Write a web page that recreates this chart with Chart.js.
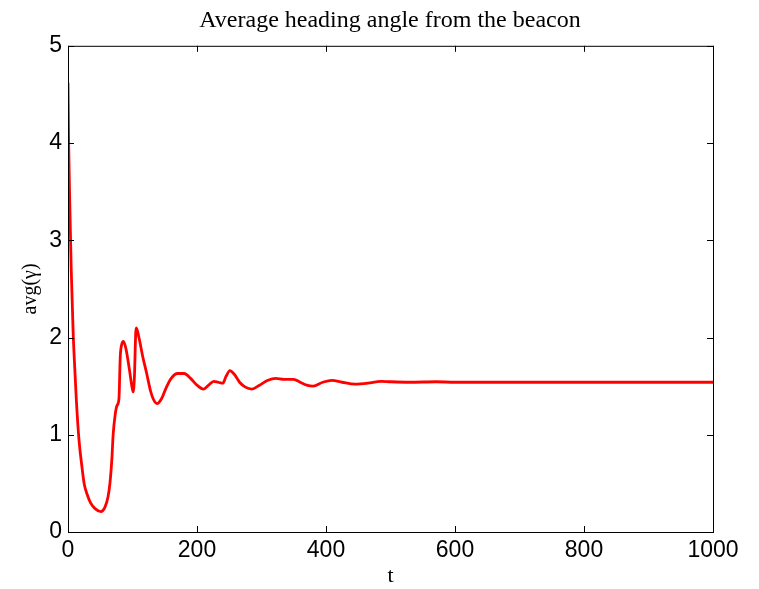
<!DOCTYPE html>
<html>
<head>
<meta charset="utf-8">
<script src="https://cdn.jsdelivr.net/npm/chart.js@4/dist/chart.umd.min.js"></script>
<style>
  html, body { margin: 0; padding: 0; background: #fff; }
  #wrap { width: 759px; height: 589px; }
</style>
</head>
<body>
<div id="wrap"><canvas id="heading"></canvas></div>
<script>
// time samples and the averaged heading angle at each one
const tValues = [0, 1, 3, 5, 8, 10, 13, 17, 22, 25, 30, 35, 42, 51, 57, 62, 65, 68, 70, 73, 76, 79,
  81, 83, 86, 90, 95, 99, 101, 103, 105, 106, 110, 116, 122, 128, 132, 138, 145, 152, 160, 170, 180,
  190, 200, 210, 218, 226, 233, 240, 245, 251, 258, 266, 275, 285, 297, 310, 322, 335, 350, 360,
  370, 380, 395, 409, 425, 445, 465, 485, 500, 530, 570, 600, 1000];
const avgGamma = [4.62, 4.0, 3.3, 2.7, 2.05, 1.75, 1.35, 0.95, 0.65, 0.5, 0.38, 0.3, 0.24, 0.21, 0.25,
  0.36, 0.5, 0.75, 1.0, 1.2, 1.3, 1.37, 1.8, 1.92, 1.96, 1.88, 1.68, 1.5, 1.44, 1.6, 2.05, 2.1, 2.0,
  1.8, 1.63, 1.45, 1.37, 1.32, 1.37, 1.48, 1.58, 1.63, 1.63, 1.58, 1.51, 1.47, 1.51, 1.55, 1.54,
  1.53, 1.6, 1.66, 1.62, 1.54, 1.49, 1.47, 1.51, 1.56, 1.58, 1.57, 1.57, 1.54, 1.51, 1.5, 1.54,
  1.56, 1.54, 1.52, 1.53, 1.55, 1.545, 1.54, 1.545, 1.54, 1.54];

const xTicks = [0, 200, 400, 600, 800, 1000];
const yTicks = [0, 1, 2, 3, 4, 5];

const serif = '"Liberation Serif", "Times New Roman", serif';
const sans = '"Liberation Sans", Arial, sans-serif';

// black box round the plot with short inward ticks on every side
const boxPlugin = {
  id: 'box',
  afterDraw(chart) {
    const { ctx, chartArea: a, scales } = chart;
    const len = 6;
    ctx.save();
    ctx.strokeStyle = '#000';
    ctx.lineWidth = 1;
    ctx.strokeRect(a.left + 0.5, a.top + 0.5, a.right - a.left, a.bottom - a.top);
    ctx.beginPath();
    xTicks.forEach(v => {
      const px = Math.round(scales.x.getPixelForValue(v)) + 0.5;
      ctx.moveTo(px, a.bottom); ctx.lineTo(px, a.bottom - len);
      ctx.moveTo(px, a.top); ctx.lineTo(px, a.top + len);
    });
    yTicks.forEach(v => {
      const py = Math.round(scales.y.getPixelForValue(v)) + 0.5;
      ctx.moveTo(a.left, py); ctx.lineTo(a.left + len, py);
      ctx.moveTo(a.right, py); ctx.lineTo(a.right - len, py);
    });
    ctx.stroke();
    ctx.restore();
  }
};

new Chart(document.getElementById('heading'), {
  type: 'line',
  data: {
    datasets: [{
      data: tValues.map((t, i) => ({ x: t, y: avgGamma[i] })),
      borderColor: '#f00',
      borderWidth: 2.8,
      pointRadius: 0,
      cubicInterpolationMode: 'monotone',
      fill: false
    }]
  },
  options: {
    responsive: true,
    maintainAspectRatio: false,
    animation: false,
    layout: { padding: { left: 21, right: 0, top: 0, bottom: 0 } },
    plugins: {
      legend: { display: false },
      tooltip: { enabled: false },
      title: {
        display: true,
        text: 'Average heading angle from the beacon',
        color: '#000',
        font: { family: serif, size: 24, weight: 'normal' },
        padding: { top: 6, bottom: 11 }
      }
    },
    scales: {
      x: {
        type: 'linear',
        min: 0,
        max: 1000,
        afterFit: s => { s.height = 57; },
        afterBuildTicks: s => { s.ticks = xTicks.map(v => ({ value: v })); },
        grid: { display: false, drawTicks: false },
        border: { display: false },
        ticks: { color: '#000', font: { family: sans, size: 23 }, padding: 5, maxRotation: 0,
          callback: v => String(v) },
        title: {
          display: true,
          text: 't',
          color: '#000',
          font: { family: serif, size: 22 },
          padding: { top: 0, bottom: 0 }
        }
      },
      y: {
        min: 0,
        max: 5,
        afterFit: s => { s.width = 47; },
        afterBuildTicks: s => { s.ticks = yTicks.map(v => ({ value: v })); },
        grid: { display: false, drawTicks: false },
        border: { display: false },
        ticks: { color: '#000', font: { family: sans, size: 23 }, padding: 6,
          callback: v => String(v) },
        title: {
          display: true,
          text: 'avg(γ)',
          color: '#000',
          font: { family: serif, size: 20, lineHeight: 1 },
          padding: { top: 0, bottom: 0 }
        }
      },
      // empty right-hand axis that only reserves the margin beside the box
      yRight: {
        position: 'right',
        min: 0,
        max: 5,
        afterFit: s => { s.width = 46; },
        grid: { display: false, drawTicks: false },
        border: { display: false },
        ticks: { display: false }
      }
    }
  },
  plugins: [boxPlugin]
});
</script>
</body>
</html>
